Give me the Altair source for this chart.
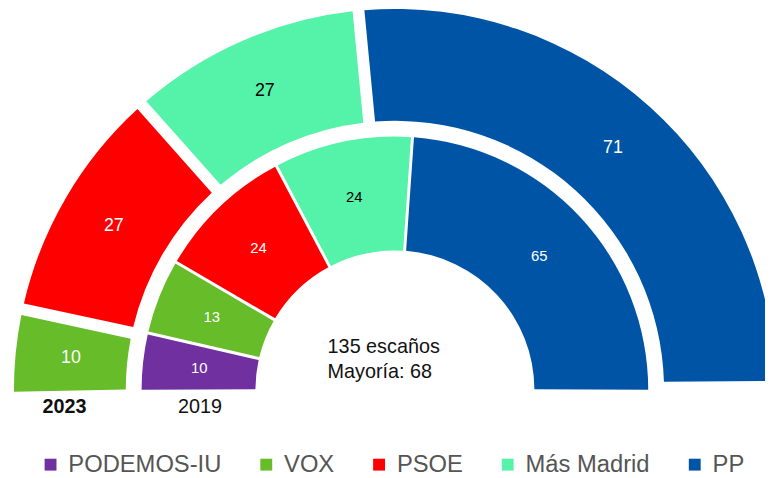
import math
import altair as alt
import pandas as pd

# ---- data ----
parties = ["PODEMOS-IU", "VOX", "PSOE", "Más Madrid", "PP"]
party_colors = ["#7030A0", "#66BC29", "#FF0000", "#55F2A9", "#0054A6"]
seats_2023 = [0, 10, 27, 27, 71]
seats_2019 = [10, 13, 24, 24, 65]
years = ["2023", "2019"]
total_2023 = 135
majority_2023 = 68
center_lines = [f"{total_2023} escaños", f"Mayoría: {majority_2023}"]

rows = []
for i, p in enumerate(parties):
    rows.append({"year": years[0], "party": p, "seats": seats_2023[i], "idx": i})
    rows.append({"year": years[1], "party": p, "seats": seats_2019[i], "idx": i})
df = pd.DataFrame(rows)

# ---- geometry / style ----
CX, CY = 391, 383.5
FONT = "Liberation Sans"
HALF = math.pi / 2

color = alt.Color(
    "party:N",
    scale=alt.Scale(domain=parties, range=party_colors),
    legend=alt.Legend(
        title=None, orient="none", legendX=31, legendY=447,
        direction="horizontal", symbolType="square", symbolSize=144,
        symbolStrokeWidth=0, labelFont=FONT, labelFontSize=24,
        labelColor="#555555", columnPadding=33, labelOffset=6,
        labelLimit=0,
    ),
)


def ring(year, dmax, rng, r0, r1, pad, fs, label_r):
    base = alt.Chart(df).transform_filter(
        (alt.datum.year == year) & (alt.datum.seats > 0)
    ).encode(
        theta=alt.Theta("seats:Q", stack=True,
                        scale=alt.Scale(domain=[0, dmax], range=rng)),
        order=alt.Order("idx:Q"),
        x=alt.value(CX), y=alt.value(CY),
    )
    arcs = base.mark_arc(radius=r1, radius2=r0, padAngle=pad).encode(color=color)
    text = base.mark_text(radius=label_r, font=FONT, fontSize=fs).encode(
        text="seats:Q",
        color=alt.condition(alt.datum.party == "Más Madrid",
                            alt.value("#000000"), alt.value("#FFFFFF")),
    )
    return alt.layer(arcs, text)


outer = ring(years[0], sum(seats_2023), [-HALF - 0.02, HALF - 0.008],
             272, 385, 0.0254, 18, 329)
inner = ring(years[1], sum(seats_2019), [-HALF - 0.005, HALF + 0.005],
             141, 256, 0.0103, 15, 199)

anno = alt.Chart(pd.DataFrame({"a": [0]}))
center = anno.mark_text(
    text=center_lines, align="left", baseline="alphabetic", lineHeight=25,
    font=FONT, fontSize=20, color="#111111",
).encode(x=alt.value(323), y=alt.value(346))
y23 = anno.mark_text(
    text=years[0], align="center", baseline="alphabetic", font=FONT,
    fontSize=20, fontWeight="bold", color="#111111",
).encode(x=alt.value(57), y=alt.value(407))
y19 = anno.mark_text(
    text=years[1], align="center", baseline="alphabetic", font=FONT,
    fontSize=20, color="#111111",
).encode(x=alt.value(194), y=alt.value(407))

chart = alt.layer(outer, inner, center, y23, y19).resolve_scale(
    theta="independent"
).properties(
    width=765, height=468, padding=0, autosize="none"
).configure_view(stroke=None)

chart.save("out.html", embed_options={"renderer": "svg", "actions": False})
